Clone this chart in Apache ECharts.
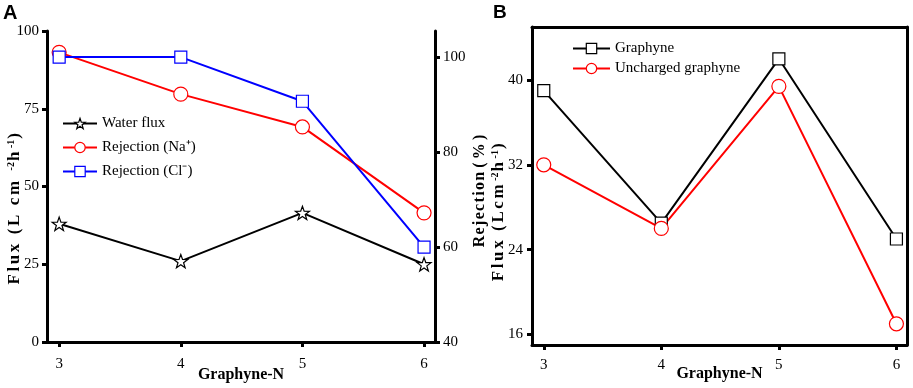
<!DOCTYPE html>
<html>
<head>
<meta charset="utf-8">
<script src="https://cdn.jsdelivr.net/npm/echarts@6/dist/echarts.min.js"></script>
<style>
  html, body { margin: 0; padding: 0; background: #fff; }
  #chart { width: 913px; height: 388px; }
</style>
</head>
<body>
<div id="chart"></div>
<script>
// graphyne pore size N
const graphyneN = [3, 4, 5, 6]

// panel A
const waterFlux = [38, 26, 41.5, 25]
const rejectionNa = [101, 92.2, 85.3, 67.2]
const rejectionCl = [100, 100, 90.7, 60]
const rejTicksA = [40, 60, 80, 100]

// panel B
const fluxGraphyne = [39, 26.5, 42, 25]
const fluxUncharged = [32, 26, 39.4, 17]
const fluxTicksB = [16, 24, 32, 40]

const serif = '"Liberation Serif", "Times New Roman", serif'
const sans = '"Liberation Sans", Arial, sans-serif'
// 5-point star, drawn in a 100x100 box
const star = 'path://M50,0L61.8,33.8L97.6,34.5L69,56.2L79.4,90.5L50,70L20.6,90.5L31,56.2L2.4,34.5L38.2,33.8Z'
const thin = '\u2009'
const hair = '\u200A'
const spaced = (s, sp) => s.split('').join(sp)
// one rich token per letter, so the letters get a little tracking
const tracked = s => s.split('').map(c => '{t|' + c + '}').join('')

const pairs = ys => graphyneN.map((x, i) => [x, ys[i]])

const frameLine = { show: true, lineStyle: { color: '#000', width: 3 } }
const tick = { show: true, length: 5, lineStyle: { color: '#000', width: 3 } }
const label = { color: '#000', fontFamily: serif, fontSize: 15 }
const nameFont = { fontFamily: serif, fontSize: 16, fontWeight: 'bold', color: '#000' }

const sup = {
  t: { fontFamily: serif, fontSize: 17, fontWeight: 'bold', color: '#000', padding: [0, 2.6, 0, 0] },
  s: { fontFamily: serif, fontSize: 10, fontWeight: 'bold', color: '#000', verticalAlign: 'top', padding: [0, 1, 7, 1] }
}

function lineSeries(name, data, color, symbol, xi, yi) {
  return {
    name,
    type: 'line',
    xAxisIndex: xi,
    yAxisIndex: yi,
    data: pairs(data),
    symbol,
    symbolSize: symbol === 'rect' ? 12 : 14,
    symbolKeepAspect: true,
    showAllSymbol: true,
    lineStyle: { color, width: 2 },
    itemStyle: { color: '#fff', borderColor: color, borderWidth: 1.2 },
    z: 3
  }
}

function legendItem(name, color) {
  return { name, itemStyle: { color: '#fff', borderColor: color, borderWidth: 1.2 } }
}

function xAxisBottom(gi, margin, gap) {
  return {
    type: 'value', gridIndex: gi, min: 2.9, max: 6.09,
    axisLine: { ...frameLine, onZero: false },
    axisTick: { ...tick, customValues: graphyneN },
    axisLabel: { ...label, margin, customValues: graphyneN },
    splitLine: { show: false },
    name: 'Graphyne-N', nameLocation: 'middle', nameGap: gap, nameMoveOverlap: false,
    nameTextStyle: nameFont
  }
}

function xAxisTop(gi) {
  return {
    type: 'value', gridIndex: gi, position: 'top', min: 2.9, max: 6.09,
    axisLine: frameLine, axisTick: { show: false }, axisLabel: { show: false }, splitLine: { show: false }
  }
}

const chart = echarts.init(document.getElementById('chart'))

const option = {
  animation: false,
  backgroundColor: '#fff',
  title: [
    { text: 'A', left: -2, top: -2, textStyle: { fontFamily: sans, fontSize: 20, fontWeight: 'bold', color: '#000' } },
    { text: 'B', left: 488, top: -2, textStyle: { fontFamily: sans, fontSize: 19, fontWeight: 'bold', color: '#000' } }
  ],
  grid: [
    { left: 47, top: 31, width: 388, height: 311, outerBoundsMode: 'none' },
    { left: 532, top: 27, width: 375, height: 318, outerBoundsMode: 'none' }
  ],
  legend: [
    {
      data: [legendItem('Water flux', '#000'), legendItem('Rejection (Na⁺)', '#ff0000'), legendItem('Rejection (Cl⁻)', '#0000ff')],
      orient: 'vertical', left: 57, top: 111, itemGap: 9, itemWidth: 34, itemHeight: 13,
      textStyle: { fontFamily: serif, fontSize: 15, color: '#000' }
    },
    {
      data: [legendItem('Graphyne', '#000'), legendItem('Uncharged graphyne', '#ff0000')],
      orient: 'vertical', left: 567, top: 36, itemGap: 5, itemWidth: 37, itemHeight: 13,
      textStyle: { fontFamily: serif, fontSize: 15, color: '#000' }
    }
  ],
  xAxis: [
    xAxisBottom(0, 15, 25),
    xAxisTop(0),
    xAxisBottom(1, 13, 21),
    xAxisTop(1)
  ],
  yAxis: [
    {
      type: 'value', gridIndex: 0, min: 0, max: 100, interval: 25,
      axisLine: frameLine, axisTick: tick, axisLabel: { ...label, margin: 8 }, splitLine: { show: false },
      name: tracked('Flux (L cm ') + '{s|-2}' + tracked('h') + '{s|-1}{t|)}', nameLocation: 'middle', nameGap: 24,
      nameMoveOverlap: false,
      nameTextStyle: { rich: sup, padding: [0, 42, 0, 0] }
    },
    {
      type: 'value', gridIndex: 0, position: 'right', min: 40, max: 105.5,
      axisLine: frameLine,
      axisTick: { ...tick, customValues: rejTicksA },
      axisLabel: { ...label, margin: 8, customValues: rejTicksA },
      splitLine: { show: false },
      name: spaced('Rejection', hair) + ' ' + spaced('(%)', thin), nameLocation: 'middle', nameGap: 37,
      nameMoveOverlap: false,
      nameTextStyle: { ...nameFont, fontSize: 16, padding: [0, 9, 0, 0] }
    },
    {
      type: 'value', gridIndex: 1, min: 15, max: 45,
      axisLine: frameLine,
      axisTick: { ...tick, customValues: fluxTicksB },
      axisLabel: { ...label, margin: 9, customValues: fluxTicksB },
      splitLine: { show: false },
      name: tracked('Flux (Lcm') + '{s|-2}' + tracked('h') + '{s|-1}{t|)}', nameLocation: 'middle', nameGap: 25,
      nameMoveOverlap: false,
      nameTextStyle: { rich: sup, padding: [0, 50, 0, 0] }
    },
    {
      type: 'value', gridIndex: 1, position: 'right', min: 15, max: 45,
      axisLine: frameLine, axisTick: { show: false }, axisLabel: { show: false }, splitLine: { show: false }
    }
  ],
  series: [
    lineSeries('Water flux', waterFlux, '#000', star, 0, 0),
    lineSeries('Rejection (Na⁺)', rejectionNa, '#ff0000', 'circle', 0, 1),
    lineSeries('Rejection (Cl⁻)', rejectionCl, '#0000ff', 'rect', 0, 1),
    lineSeries('Graphyne', fluxGraphyne, '#000', 'rect', 2, 2),
    lineSeries('Uncharged graphyne', fluxUncharged, '#ff0000', 'circle', 2, 2)
  ]
}

chart.setOption(option)
</script>
</body>
</html>
